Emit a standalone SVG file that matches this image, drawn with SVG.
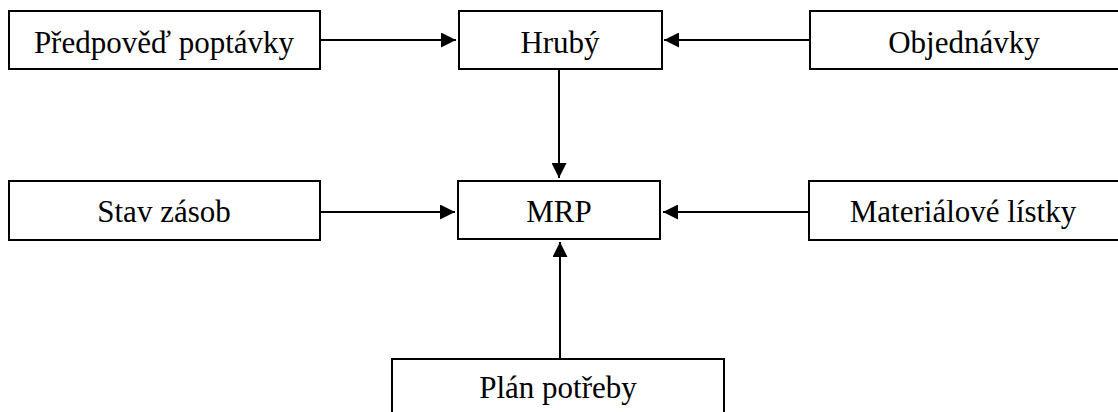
<svg xmlns="http://www.w3.org/2000/svg" width="1118" height="412" viewBox="0 0 1118 412">
<style>
.box{fill:#fff;stroke:#000;stroke-width:2}
.lbl{font-family:"Liberation Serif","Times New Roman",serif;font-size:31px;fill:#000;text-anchor:middle}
.con{stroke:#000;stroke-width:2;fill:none}
</style>
<defs>
<marker id="ah" markerUnits="userSpaceOnUse" markerWidth="16" markerHeight="15" refX="15" refY="7.5" orient="auto">
<path d="M0,0 L15,7.5 L0,15 Z" fill="#000"/>
</marker>
</defs>
<rect width="1118" height="412" fill="#fff"/>
<g id="connectors">
<line class="con" x1="320" y1="40" x2="456" y2="40" marker-end="url(#ah)"/>
<line class="con" x1="810" y1="40" x2="664" y2="40" marker-end="url(#ah)"/>
<line class="con" x1="559" y1="69" x2="559" y2="178" marker-end="url(#ah)"/>
<line class="con" x1="320" y1="212" x2="455" y2="212" marker-end="url(#ah)"/>
<line class="con" x1="809" y1="212" x2="663" y2="212" marker-end="url(#ah)"/>
<line class="con" x1="560" y1="359" x2="560" y2="242" marker-end="url(#ah)"/>
</g>
<g id="predpoved">
<rect class="box" x="9" y="11" width="311" height="58"/>
<text class="lbl" x="164" y="53">Předpověď poptávky</text>
</g>
<g id="hruby">
<rect class="box" x="459" y="11" width="203" height="58"/>
<text class="lbl" x="560" y="53">Hrubý</text>
</g>
<g id="objednavky">
<rect class="box" x="810" y="11" width="312" height="58"/>
<text class="lbl" x="964" y="53">Objednávky</text>
</g>
<g id="stav">
<rect class="box" x="9" y="181" width="311" height="59"/>
<text class="lbl" x="164" y="222">Stav zásob</text>
</g>
<g id="mrp">
<rect class="box" x="458" y="181" width="202" height="58"/>
<text class="lbl" x="559" y="222">MRP</text>
</g>
<g id="materialove">
<rect class="box" x="809" y="181" width="313" height="59"/>
<text class="lbl" x="963" y="222">Materiálové lístky</text>
</g>
<g id="plan">
<rect class="box" x="392" y="359" width="332" height="70"/>
<text class="lbl" x="558" y="398">Plán potřeby</text>
</g>
</svg>
